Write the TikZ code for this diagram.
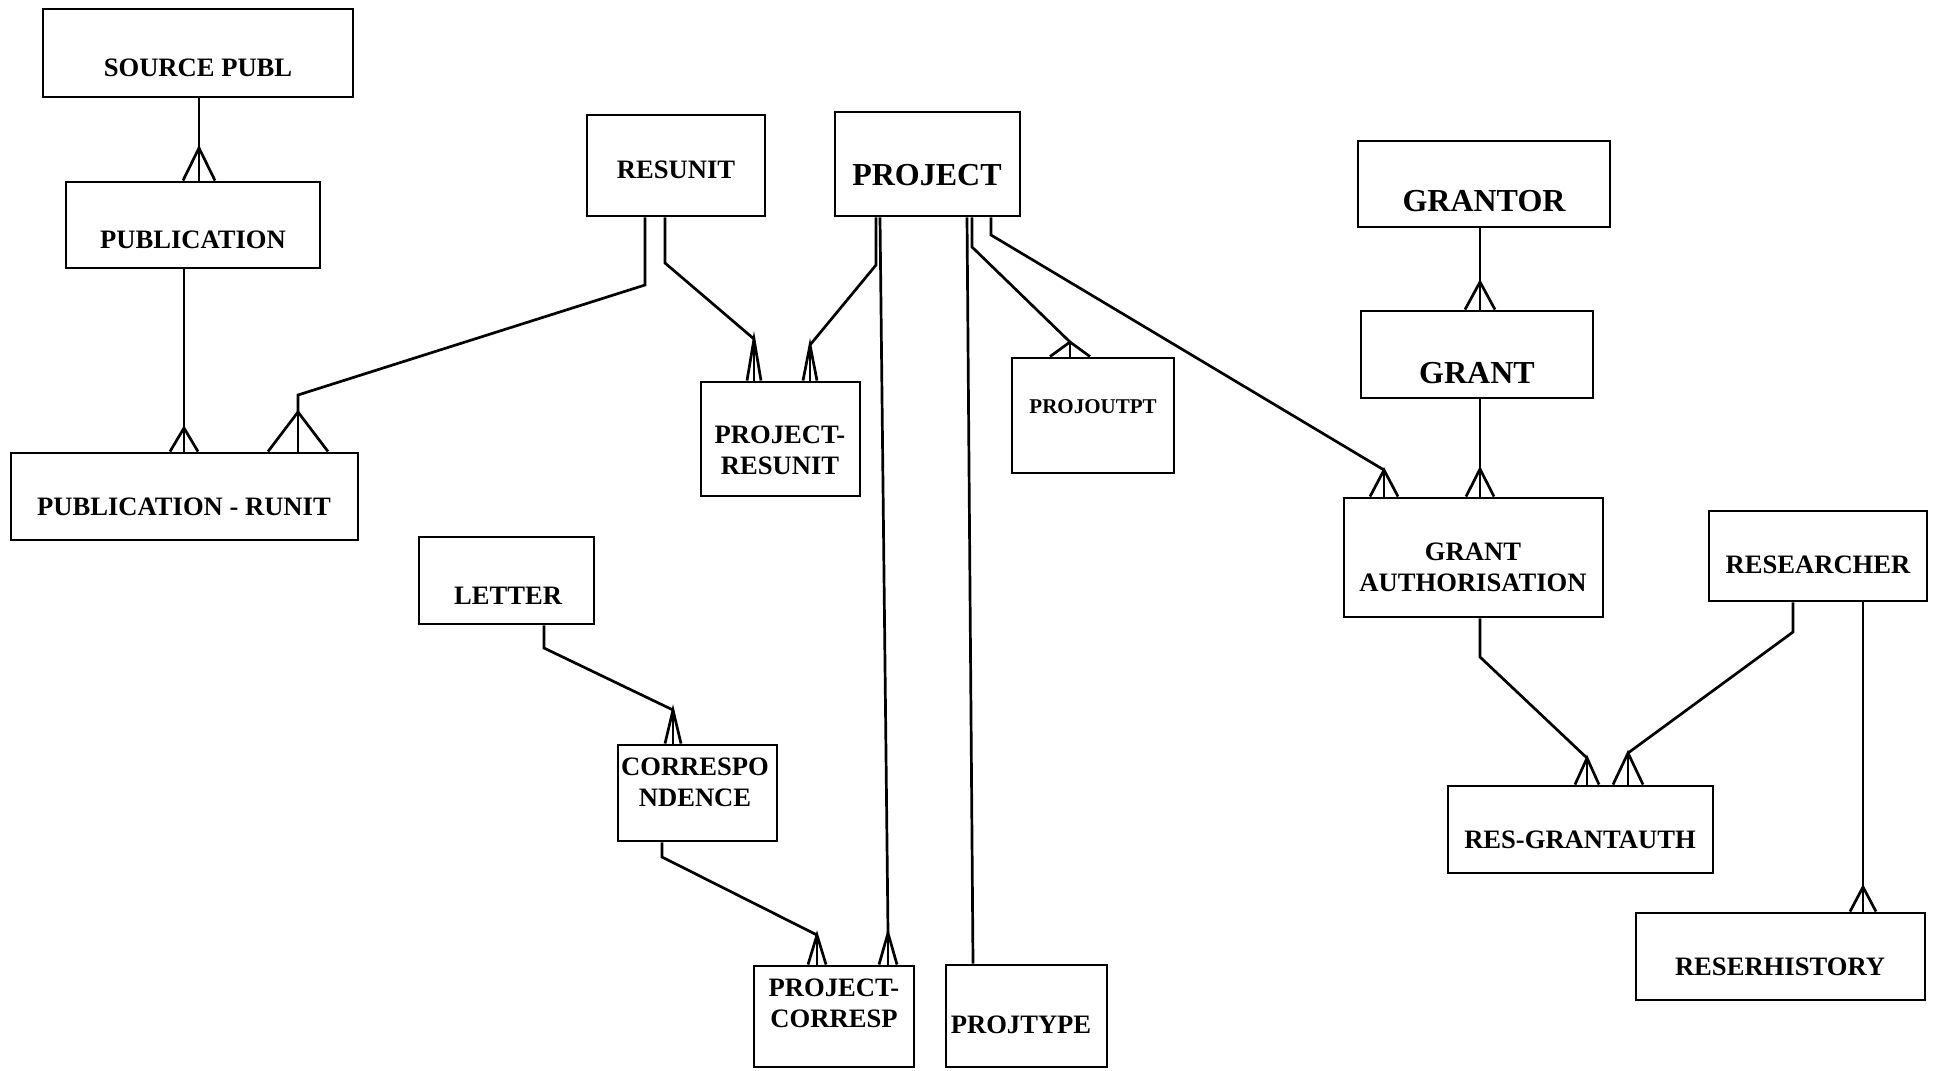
\documentclass[tikz,border=0pt]{standalone}
\usepackage{fontspec}
\setmainfont{Liberation Serif}
\usetikzlibrary{calc,fit}

% many-end of a relationship: three prongs from an apex down to the top of a box
\newcommand{\crowsfoot}[3]{%
  \draw[link] ($(#1 |- #3.north)+(-#2,0)$) -- (#1) -- ($(#1 |- #3.north)+(#2,0)$);
  \draw[link] (#1) -- (#1 |- #3.north);}

\begin{document}
\begin{tikzpicture}[x=0.5pt,y=-0.5pt,
  entity/.style={draw, line width=1.45pt, inner sep=0pt},
  link/.style={line width=1.35pt, line join=miter},
  lbl/.style={inner sep=0pt, align=center, font=\fontsize{13.3}{15.5}\selectfont\bfseries},
  biglbl/.style={lbl, font=\fontsize{16}{19}\selectfont\bfseries},
  smalllbl/.style={lbl, font=\fontsize{10.5}{12.5}\selectfont\bfseries}]

\fill[white] (0,0) rectangle (1936,1070);
\useasboundingbox (0,0) rectangle (1936,1070);

% ---------- entities ----------
\node[entity, fit={(43,9)(353,97)}] (sp) {};
\node[lbl] (sp-t) at (198,68) {SOURCE PUBL};

\node[entity, fit={(66,182)(320,268)}] (pub) {};
\node[lbl] (pub-t) at (193,240) {PUBLICATION};

\node[entity, fit={(11,453)(358,540)}] (pubrunit) {};
\node[lbl] (pubrunit-t) at (184,507) {PUBLICATION - RUNIT};

\node[entity, fit={(587,115)(765,216)}] (resunit) {};
\node[lbl] (resunit-t) at (676,170) {RESUNIT};

\node[entity, fit={(835,112)(1020,216)}] (project) {};
\node[biglbl] (project-t) at (927,175) {PROJECT};

\node[entity, fit={(701,382)(860,496)}] (projresunit) {};
\node[lbl] (projresunit-t) at (780,450.5) {PROJECT-\\RESUNIT};

\node[entity, fit={(1012,358)(1174,473)}] (projoutpt) {};
\node[smalllbl] (projoutpt-t) at (1093,407) {PROJOUTPT};

\node[entity, fit={(1358,141)(1610,227)}] (grantor) {};
\node[biglbl] (grantor-t) at (1484,201) {GRANTOR};

\node[entity, fit={(1361,311)(1593,398)}] (grant) {};
\node[biglbl] (grant-t) at (1477,373) {GRANT};

\node[entity, fit={(1344,498)(1603,617)}] (grantauth) {};
\node[lbl] (grantauth-t) at (1473,567) {GRANT\\AUTHORISATION};

\node[entity, fit={(1709,511)(1927,601)}] (researcher) {};
\node[lbl] (researcher-t) at (1818,565) {RESEARCHER};

\node[entity, fit={(1448,786)(1713,873)}] (resgrantauth) {};
\node[lbl] (resgrantauth-t) at (1580,840) {RES-GRANTAUTH};

\node[entity, fit={(1636,913)(1925,1000)}] (reserhistory) {};
\node[lbl] (reserhistory-t) at (1780,967) {RESERHISTORY};

\node[entity, fit={(419,537)(594,624)}] (letter) {};
\node[lbl] (letter-t) at (508,596) {LETTER};

\node[entity, fit={(618,745)(777,841)}] (corr) {};
\node[lbl] (corr-t) at (695,782.5) {CORRESPO\\NDENCE};

\node[entity, fit={(754,966)(914,1067)}] (projcorresp) {};
\node[lbl] (projcorresp-t) at (834,1003) {PROJECT-\\CORRESP};

\node[entity, fit={(946,965)(1107,1067)}] (projtype) {};
\node[lbl] (projtype-t) at (1021,1025) {PROJTYPE};

% ---------- relationships ----------
% SOURCE PUBL -< PUBLICATION
\coordinate (a1) at (199,148);
\draw[link] (sp.south -| a1) -- (a1);
\crowsfoot{a1}{16}{pub}

% PUBLICATION -< PUBLICATION - RUNIT
\coordinate (a2) at (184,428);
\draw[link] (pub.south -| a2) -- (a2);
\crowsfoot{a2}{14}{pubrunit}

% RESUNIT -< PUBLICATION - RUNIT
\coordinate (b3) at (645,285);
\coordinate (k3) at (298,395);
\coordinate (a3) at (298,412);
\draw[link] (resunit.south -| b3) -- (b3) -- (k3) -- (a3);
\crowsfoot{a3}{30}{pubrunit}

% RESUNIT -< PROJECT-RESUNIT
\coordinate (b4) at (665,263);
\coordinate (a4) at (754,339);
\draw[link] (resunit.south -| b4) -- (b4) -- (a4);
\crowsfoot{a4}{7}{projresunit}

% PROJECT -< PROJECT-RESUNIT
\coordinate (b5) at (876,265);
\coordinate (a5) at (810,345);
\draw[link] (project.south -| b5) -- (b5) -- (a5);
\crowsfoot{a5}{7}{projresunit}

% PROJECT -< PROJECT-CORRESP
\coordinate (s6) at (880,216);
\coordinate (a6) at (888,933);
\draw[link] (project.south -| s6) -- (a6);
\crowsfoot{a6}{9}{projcorresp}

% PROJECT -- PROJTYPE
\coordinate (s7) at (967,216);
\coordinate (e7) at (973,965);
\draw[link] (project.south -| s7) -- (projtype.north -| e7);

% PROJECT -< PROJOUTPT
\coordinate (b8) at (972,247);
\coordinate (a8) at (1070,342);
\draw[link] (project.south -| b8) -- (b8) -- (a8);
\crowsfoot{a8}{20}{projoutpt}

% PROJECT -< GRANT AUTHORISATION
\coordinate (b9) at (991,235);
\coordinate (a9) at (1384,470);
\draw[link] (project.south -| b9) -- (b9) -- (a9);
\crowsfoot{a9}{14}{grantauth}

% GRANTOR -< GRANT
\coordinate (a10) at (1480,282);
\draw[link] (grantor.south -| a10) -- (a10);
\crowsfoot{a10}{15}{grant}

% GRANT -< GRANT AUTHORISATION
\coordinate (a11) at (1480,469);
\draw[link] (grant.south -| a11) -- (a11);
\crowsfoot{a11}{14}{grantauth}

% GRANT AUTHORISATION -< RES-GRANTAUTH
\coordinate (b12) at (1480,657);
\coordinate (a12) at (1587,758);
\draw[link] (grantauth.south -| b12) -- (b12) -- (a12);
\crowsfoot{a12}{12}{resgrantauth}

% RESEARCHER -< RES-GRANTAUTH
\coordinate (b13) at (1793,632);
\coordinate (a13) at (1628,753);
\draw[link] (researcher.south -| b13) -- (b13) -- (a13);
\crowsfoot{a13}{15}{resgrantauth}

% RESEARCHER -< RESERHISTORY
\coordinate (a14) at (1863,887);
\draw[link] (researcher.south -| a14) -- (a14);
\crowsfoot{a14}{13}{reserhistory}

% LETTER -< CORRESPONDENCE
\coordinate (b15) at (544,648);
\coordinate (a15) at (673,710);
\draw[link] (letter.south -| b15) -- (b15) -- (a15);
\crowsfoot{a15}{8}{corr}

% CORRESPONDENCE -< PROJECT-CORRESP
\coordinate (b16) at (662,857);
\coordinate (a16) at (817,935);
\draw[link] (corr.south -| b16) -- (b16) -- (a16);
\crowsfoot{a16}{9}{projcorresp}

\end{tikzpicture}
\end{document}
